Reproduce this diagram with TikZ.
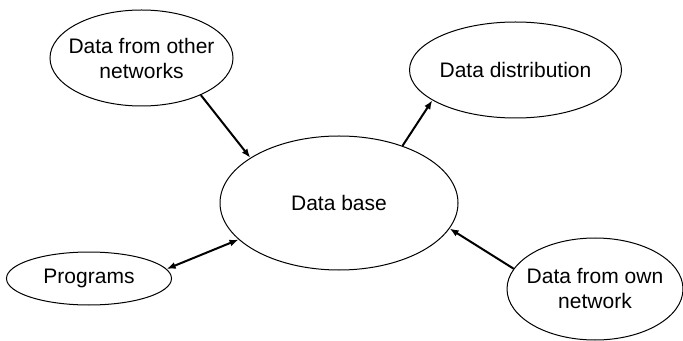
\documentclass[tikz,border=0pt]{standalone}
\usepackage{fontspec}
\setmainfont{Liberation Sans}
\usetikzlibrary{arrows.meta, shapes.geometric}

\begin{document}
\begin{tikzpicture}[x=0.5pt, y=-0.5pt,
    blob/.style={draw, ellipse, line width=0.5pt, inner xsep=-10pt, inner ysep=0pt, align=center,
        font=\fontsize{10.5}{12.5}\selectfont},
    flow/.style={line width=1pt, >={Latex[length=4.5pt,width=3.5pt]}}]
\useasboundingbox (0,0) rectangle (683,341);
\node[blob, minimum width=91.5pt, minimum height=48pt] (other) at (141.5,58) {Data from other\\networks};
\node[blob, minimum width=106pt, minimum height=48pt] (distr) at (515.5,70) {Data distribution};
\node[blob, minimum width=119pt, minimum height=67pt] (base) at (339,203) {Data base};
\node[blob, minimum width=82.5pt, minimum height=26.5pt] (prog) at (89,278.5) {Programs};
\node[blob, minimum width=88pt, minimum height=51pt] (own) at (595,289) {Data from own\\network};
\draw[flow, ->] (other.-32.3) -- (base.153.3);
\draw[flow, ->] (base.42.8) -- (distr.200.5);
\draw[flow, <->] (prog.7.3) -- (base.200.1);
\draw[flow, ->] (own.166.9) -- (base.-13.9);
\end{tikzpicture}
\end{document}
